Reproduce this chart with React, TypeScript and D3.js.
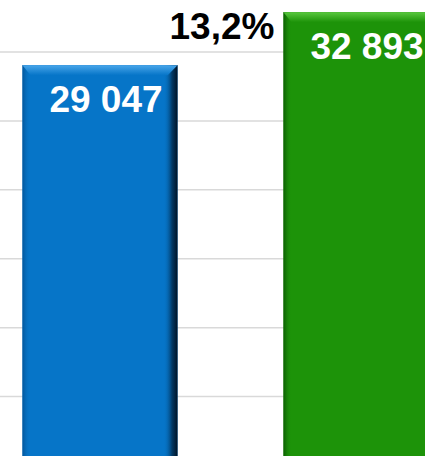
import React from "react";
import * as d3 from "d3";

const categories = ["Prev", "Curr"];
const values = [29047, 32893];
const valueLabels = ["29 047", "32 893"];
const changeLabel = "13,2%";
const gridTicks = [0, 5000, 10000, 15000, 20000, 25000, 30000, 35000];

const W = 425;
const H = 456;

const palette = [
  { base: "#0675C8", light: "#49A6EA", dark: "#001326", left: "#04569A" },
  { base: "#1D9309", light: "#5AC83F", dark: "#0A3E02", left: "#0C5C03" },
];

export default function App() {
  const x = d3
    .scaleBand<string>()
    .domain(categories)
    .range([-30.5, 491.5])
    .paddingInner(0.406)
    .paddingOuter(0.203);
  const y = d3.scaleLinear().domain([0, 35000]).range([465.5, -16.9]);
  const bw = x.bandwidth();
  const bottom = y(0);
  const topB = 10;
  const leftB = 8;
  const rightB = 14;

  return (
    <svg
      width={W}
      height={H}
      style={{ position: "fixed", left: 0, top: 0, background: "#fff" }}
      fontFamily="'Liberation Sans', Arial, sans-serif"
    >
      <defs>
        {palette.map((p, i) => (
          <React.Fragment key={i}>
            <linearGradient id={`top${i}`} x1="0" y1="0" x2="0" y2="1">
              <stop offset="0" stopColor={p.light} />
              <stop offset="1" stopColor={p.base} />
            </linearGradient>
            <linearGradient id={`left${i}`} x1="0" y1="0" x2="1" y2="0">
              <stop offset="0" stopColor={p.left} />
              <stop offset="1" stopColor={p.base} stopOpacity="0" />
            </linearGradient>
            <linearGradient id={`right${i}`} x1="0" y1="0" x2="1" y2="0">
              <stop offset="0" stopColor={p.base} stopOpacity="0" />
              <stop offset="0.6" stopColor={p.dark} stopOpacity="0.6" />
              <stop offset="1" stopColor={p.dark} />
            </linearGradient>
          </React.Fragment>
        ))}
      </defs>
      {gridTicks.map((t) => (
        <line
          key={t}
          x1={0}
          x2={W}
          y1={y(t)}
          y2={y(t)}
          stroke="#d9d9d9"
          strokeWidth={1.5}
        />
      ))}
      {categories.map((c, i) => {
        const x0 = x(c) as number;
        const y0 = y(values[i]);
        const p = palette[i];
        return (
          <g key={c}>
            <rect x={x0} y={y0} width={bw} height={bottom - y0} fill={p.base} />
            <rect
              x={x0}
              y={y0}
              width={leftB}
              height={bottom - y0}
              fill={`url(#left${i})`}
            />
            <rect
              x={x0 + bw - rightB}
              y={y0}
              width={rightB}
              height={bottom - y0}
              fill={`url(#right${i})`}
            />
            <polygon
              points={`${x0},${y0} ${x0 + bw},${y0} ${x0 + bw - rightB * 0.7},${y0 + topB} ${x0 + leftB},${y0 + topB}`}
              fill={`url(#top${i})`}
            />
            <text
              x={x0 + bw / 2 + 6}
              y={y0 + 47}
              textAnchor="middle"
              fill="#fff"
              fontWeight="bold"
              fontSize={37}
            >
              {valueLabels[i]}
            </text>
          </g>
        );
      })}
      <text
        x={222}
        y={39}
        textAnchor="middle"
        fill="#000"
        fontWeight="bold"
        fontSize={37}
      >
        {changeLabel}
      </text>
    </svg>
  );
}
